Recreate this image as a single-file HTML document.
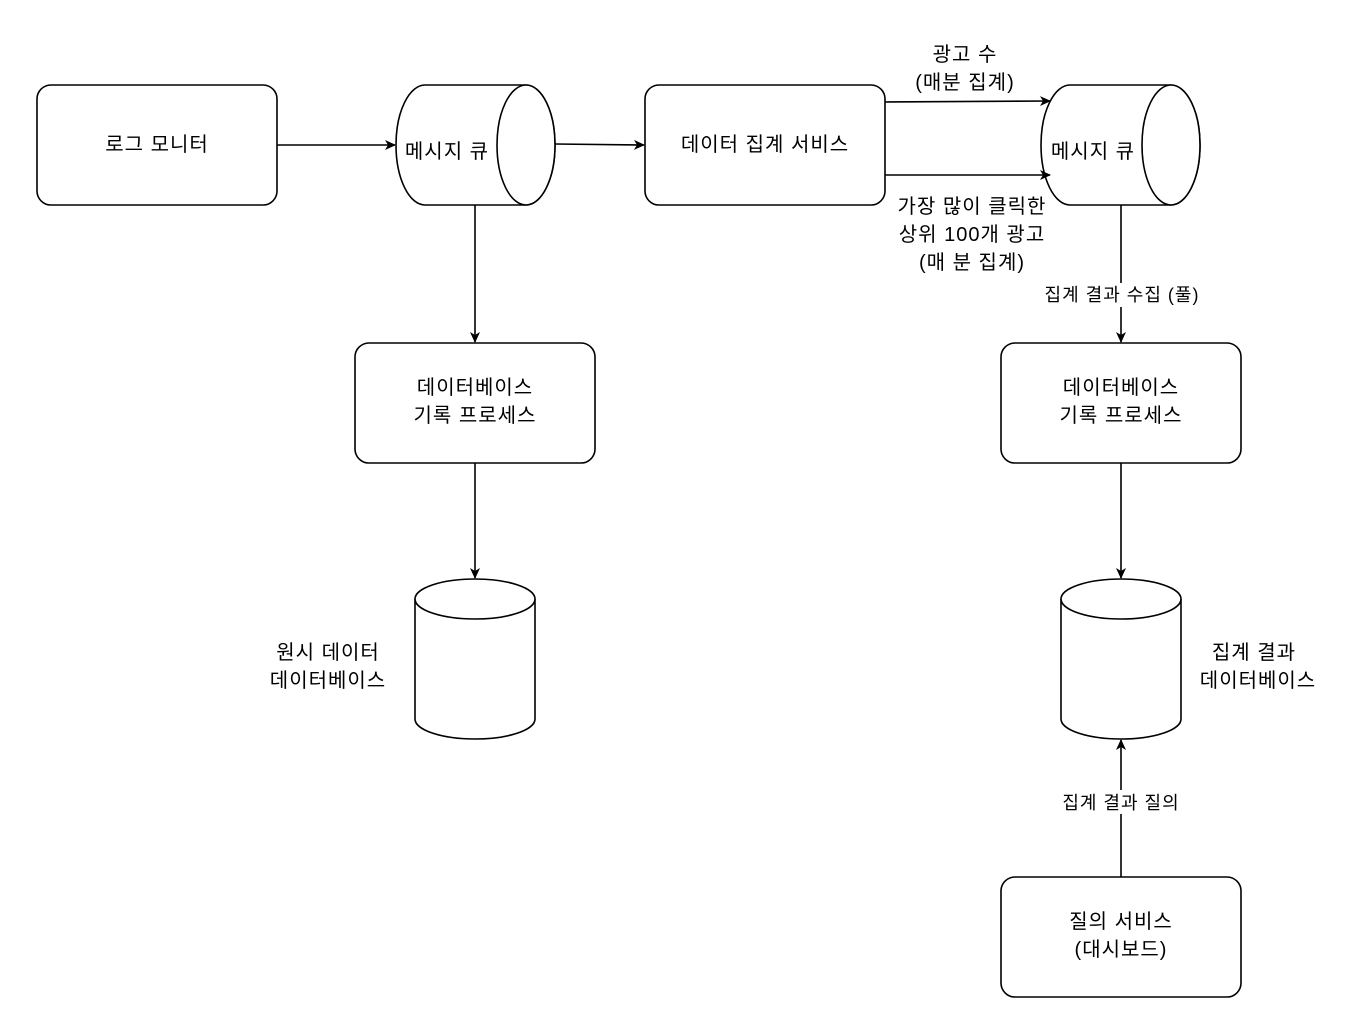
<!DOCTYPE html>
<html><head><meta charset="utf-8">
<style>
html,body{margin:0;padding:0;background:#fff;}
svg text{font-family:"Liberation Sans","Noto Sans CJK KR",sans-serif;fill:#000;}
</style></head>
<body>
<svg width="1350" height="1008" viewBox="0 0 1350 1008" xmlns="http://www.w3.org/2000/svg">
<defs>
<marker id="a" markerWidth="12" markerHeight="12" refX="10" refY="6" orient="auto" markerUnits="userSpaceOnUse">
<path d="M0,1 L11,6 L0,11 L3,6 Z" fill="#000"/>
</marker>
</defs>
<g fill="#fff" stroke="#000" stroke-width="1.6">
<rect x="37" y="85" width="240" height="120" rx="14"/>
<rect x="645" y="85" width="240" height="120" rx="14"/>
<rect x="355" y="343" width="240" height="120" rx="14"/>
<rect x="1001" y="343" width="240" height="120" rx="14"/>
<rect x="1001" y="877" width="240" height="120" rx="14"/>
<path d="M425,85 L526,85 A29,60 0 0 1 526,205 L425,205 A29,60 0 0 1 425,85 Z"/>
<ellipse cx="526" cy="145" rx="29" ry="60"/>
<path d="M1070,85 L1171,85 A29,60 0 0 1 1171,205 L1070,205 A29,60 0 0 1 1070,85 Z"/>
<ellipse cx="1171" cy="145" rx="29" ry="60"/>
<path d="M415,599 A60,20 0 0 1 535,599 L535,719 A60,20 0 0 1 415,719 Z"/>
<path d="M415,599 A60,20 0 0 0 535,599"/>
<path d="M1061,599 A60,20 0 0 1 1181,599 L1181,719 A60,20 0 0 1 1061,719 Z"/>
<path d="M1061,599 A60,20 0 0 0 1181,599"/>
</g>
<g stroke="#000" stroke-width="1.6" fill="none" marker-end="url(#a)">
<line x1="277" y1="145" x2="395" y2="145"/>
<line x1="555" y1="144" x2="644" y2="145"/>
<line x1="475" y1="205" x2="475" y2="342"/>
<line x1="475" y1="463" x2="475" y2="578"/>
<line x1="885" y1="102" x2="1050" y2="101"/>
<line x1="885" y1="175" x2="1050" y2="175"/>
<line x1="1121" y1="205" x2="1121" y2="342"/>
<line x1="1121" y1="463" x2="1121" y2="578"/>
<line x1="1121" y1="877" x2="1121" y2="740"/>
</g>
<rect x="1036" y="283" width="172" height="24" fill="#fff"/>
<rect x="1052" y="790" width="138" height="24" fill="#fff"/>
<g font-size="20" letter-spacing="1" text-anchor="middle">
<text x="157" y="151">로그 모니터</text>
<text x="447" y="158">메시지 큐</text>
<text x="765" y="151">데이터 집계 서비스</text>
<text x="1093" y="158">메시지 큐</text>
<text x="475" y="394">데이터베이스</text>
<text x="475" y="422">기록 프로세스</text>
<text x="1121" y="394">데이터베이스</text>
<text x="1121" y="422">기록 프로세스</text>
<text x="1121" y="928">질의 서비스</text>
<text x="1121" y="956">(대시보드)</text>
<text x="328" y="659">원시 데이터</text>
<text x="328" y="687">데이터베이스</text>
<text x="1254" y="659">집계 결과</text>
<text x="1258" y="687">데이터베이스</text>
<text x="965" y="61">광고 수</text>
<text x="965" y="89">(매분 집계)</text>
<text x="972" y="213">가장 많이 클릭한</text>
<text x="972" y="241">상위 100개 광고</text>
<text x="972" y="269">(매 분 집계)</text>
</g>
<g font-size="18" letter-spacing="1" text-anchor="middle">
<text x="1122" y="301">집계 결과 수집 (풀)</text>
<text x="1121" y="809">집계 결과 질의</text>
</g>
</svg>
</body></html>
